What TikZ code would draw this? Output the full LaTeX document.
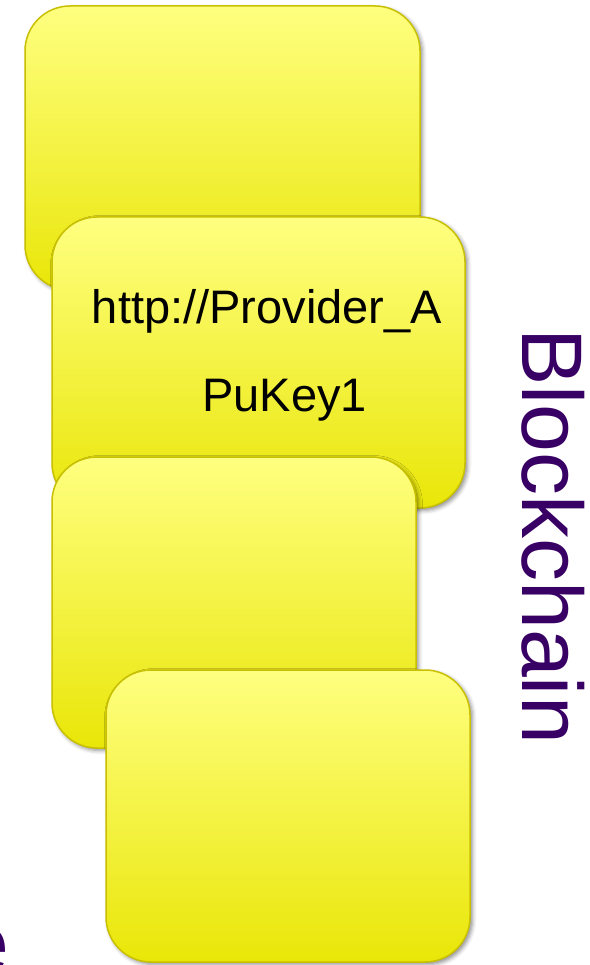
\documentclass[tikz,border=0pt]{standalone}
\usepackage{fontspec}
\setmainfont{Liberation Sans}
\usetikzlibrary{shadows.blur}
\definecolor{noteTop}{RGB}{255,255,128}
\definecolor{noteBot}{RGB}{233,230,8}
\definecolor{noteEdge}{RGB}{200,192,0}
\definecolor{chainInk}{RGB}{56,0,100}
\tikzset{
  note/.style={draw=noteEdge, line width=1.5pt, rounded corners=45pt,
    top color=noteTop, bottom color=noteBot,
    blur shadow={shadow xshift=2.5pt, shadow yshift=-2.5pt,
      shadow blur radius=4pt, shadow opacity=45}},
  notetext/.style={font=\fontsize{47}{56}\selectfont, text=black},
  chaintext/.style={font=\fontsize{86}{100}\selectfont, text=chainInk}
}
\begin{document}
\begin{tikzpicture}[x=1pt,y=1pt]
  \useasboundingbox (0,0) rectangle (589,-965);
  % stacked blocks, back to front
  \path[note] (25,-6) rectangle (420,-290);
  \path[note] (52,-217) rectangle (465,-508);
  \path[note] (52,-457) rectangle (416,-748);
  \path[note] (106,-670) rectangle (470,-962);
  % contents of the second block
  \node[notetext, anchor=base] (url) at (267,-323) {http://Provider\_A};
  \node[notetext, anchor=base] (key) at (284.5,-411) {PuKey1};
  % side label
  \node[chaintext, rotate=-90, anchor=base] (chain) at (522,-536) {Blockchain};
  % trailing letter of a word at the lower left
  \node[chaintext, anchor=base east, inner sep=0pt] (tail) at (10,-973) {e};
\end{tikzpicture}
\end{document}
